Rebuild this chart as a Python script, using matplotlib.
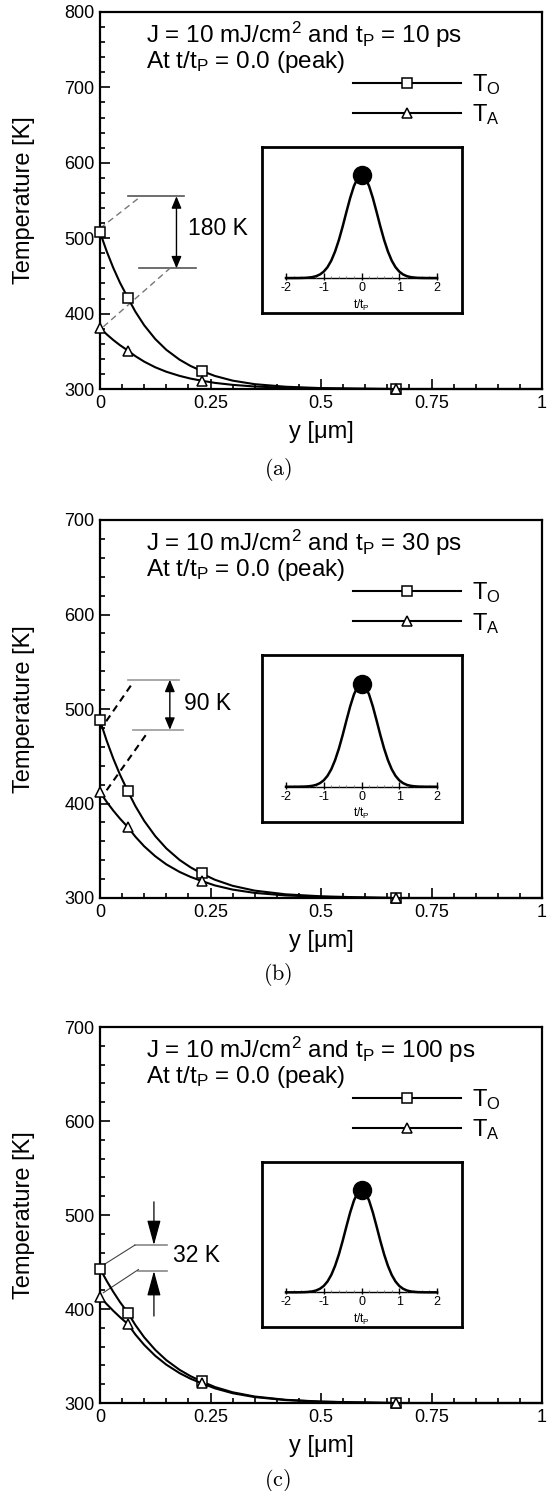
import matplotlib
matplotlib.use("Agg")
import matplotlib.pyplot as plt
from matplotlib.lines import Line2D
from matplotlib.ticker import MultipleLocator, FixedLocator

plt.rcParams.update({
    "font.family": ["Liberation Sans", "DejaVu Sans"],
    "mathtext.fontset": "custom",
    "mathtext.rm": "Liberation Sans",
    "mathtext.it": "Liberation Sans:italic",
    "mathtext.bf": "Liberation Sans:bold",
    "mathtext.sf": "Liberation Sans",
})

# ---------------- data ----------------
depth_um = [0, 0.015, 0.03, 0.045, 0.063, 0.08, 0.10, 0.125, 0.15, 0.18, 0.205,
            0.23, 0.26, 0.30, 0.35, 0.42, 0.50, 0.58, 0.67, 0.80, 1.00]
marker_idx = [0, 4, 11, 18]

T_O_a = [508, 482.8, 460.7, 441.2, 421, 402.6, 384.5, 366.3, 352, 338.9, 330.5,
         324, 317.3, 311.1, 306.4, 303, 301.2, 300.5, 300, 300, 300]
T_A_a = [381, 372.6, 365, 358.2, 351, 343.6, 336.3, 328.8, 322.9, 317.4, 313.8,
         311, 308.1, 305.5, 303.3, 301.6, 300.7, 300.3, 300, 300, 300]

T_O_b = [488, 466.6, 447.6, 430.7, 413, 397.3, 381.6, 365.5, 352.5, 340.3, 332.4,
         326, 319.3, 312.9, 307.8, 303.9, 301.8, 300.8, 300, 300, 300]
T_A_b = [412, 401.8, 392.5, 384.1, 375, 364.9, 354.7, 344.2, 335.6, 327.6, 322.3,
         318, 313.3, 308.9, 305.4, 302.7, 301.2, 300.5, 300, 300, 300]

T_O_c = [443, 430, 418.3, 407.5, 396, 383, 369.9, 356.5, 345.6, 335.3, 328.5,
         323, 317, 311.4, 306.9, 303.4, 301.5, 300.7, 300, 300, 300]
T_A_c = [413, 405.3, 398.1, 391.4, 384, 372.9, 361.8, 350.2, 340.8, 331.8, 325.8,
         321, 315.6, 310.4, 306.3, 303.1, 301.4, 300.6, 300, 300, 300]

T_O_all = [T_O_a, T_O_b, T_O_c]
T_A_all = [T_A_a, T_A_b, T_A_c]

pulse_ps = ["10", "30", "100"]
y_top = [800, 700, 700]
panel_labels = ["a", "b", "c"]
delta_labels = ["180 K", "90 K", "32 K"]

x_ticks = [0, 0.25, 0.5, 0.75, 1]
x_ticklabels = ["0", "0.25", "0.5", "0.75", "1"]

# inset: normalised laser pulse vs t/tp
pulse_t = [-2.0, -1.9, -1.8, -1.7, -1.6, -1.5, -1.4, -1.3, -1.2, -1.1, -1.0,
           -0.9, -0.8, -0.7, -0.6, -0.5, -0.4, -0.3, -0.2, -0.1, 0.0,
           0.1, 0.2, 0.3, 0.4, 0.5, 0.6, 0.7, 0.8, 0.9, 1.0,
           1.1, 1.2, 1.3, 1.4, 1.5, 1.6, 1.7, 1.8, 1.9, 2.0]
pulse_I = [0, 0, 0.0001, 0.0003, 0.0008, 0.002, 0.0044, 0.0092, 0.0184, 0.035, 0.0625,
           0.106, 0.17, 0.258, 0.369, 0.5, 0.642, 0.779, 0.895, 0.973, 1.0,
           0.973, 0.895, 0.779, 0.642, 0.5, 0.369, 0.258, 0.17, 0.106, 0.0625,
           0.035, 0.0184, 0.0092, 0.0044, 0.002, 0.0008, 0.0003, 0.0001, 0, 0]
peak_t = [0.0]
peak_I = [1.0]
inset_ticks = [-2, -1, 0, 1, 2]
inset_minor = [-1.8, -1.6, -1.4, -1.2, -0.8, -0.6, -0.4, -0.2,
               0.2, 0.4, 0.6, 0.8, 1.2, 1.4, 1.6, 1.8]

# ---------------- figure ----------------
W, H = 548, 1491
fig = plt.figure(figsize=(W / 100, H / 100), dpi=100)

ax_px = [(100, 12, 542, 389), (100, 520, 542, 898), (100, 1027, 542, 1403)]
caption_y = [470, 975, 1480]

mk_style = dict(markerfacecolor="white", markeredgecolor="black",
                markeredgewidth=1.1, markersize=7.5)

for i in range(3):
    x0, y0, x1, y1 = ax_px[i]
    ax = fig.add_axes([x0 / W, 1 - y1 / H, (x1 - x0) / W, (y1 - y0) / H])
    ax.set_xlim(0, 1)
    ax.set_ylim(300, y_top[i])
    ax.xaxis.set_major_locator(FixedLocator(x_ticks))
    ax.set_xticklabels(x_ticklabels)
    ax.xaxis.set_minor_locator(MultipleLocator(0.05))
    ax.yaxis.set_major_locator(MultipleLocator(100))
    ax.yaxis.set_minor_locator(MultipleLocator(20))
    ax.tick_params(which="both", direction="in", top=False, right=False,
                   width=1.2, labelsize=13)
    ax.tick_params(which="major", length=7, pad=4)
    ax.tick_params(which="minor", length=3.5)
    for sp in ax.spines.values():
        sp.set_linewidth(1.6)

    ax.set_ylabel("Temperature [K]", fontsize=17)
    ax.yaxis.set_label_coords(-0.147, 0.5)
    ax.set_xlabel("y [\u03bcm]", fontsize=17)
    ax.xaxis.set_label_coords(0.5, -0.085)

    # curves
    ax.plot(depth_um, T_O_all[i], color="black", lw=1.5, marker="s",
            markevery=marker_idx, clip_on=False, zorder=5, **mk_style)
    ax.plot(depth_um, T_A_all[i], color="black", lw=1.5, marker="^",
            markevery=marker_idx, clip_on=False, zorder=5, **mk_style)

    # header text
    ax.text(0.104, 0.918,
            r"J = 10 mJ/cm$^2$ and t$_\mathrm{P}$ = " + pulse_ps[i] + " ps",
            transform=ax.transAxes, fontsize=17.5, va="baseline", ha="left")
    ax.text(0.104, 0.851, r"At t/t$_\mathrm{P}$ = 0.0 (peak)",
            transform=ax.transAxes, fontsize=17.5, va="baseline", ha="left")

    # legend
    h_o = Line2D([], [], color="black", lw=1.5, marker="s", **mk_style)
    h_a = Line2D([], [], color="black", lw=1.5, marker="^", **mk_style)
    ax.legend([h_o, h_a], [r"T$_\mathrm{O}$", r"T$_\mathrm{A}$"],
              loc="upper left", bbox_to_anchor=(0.572, 0.841),
              frameon=False, numpoints=1, fontsize=17, handlelength=4.6,
              handletextpad=0.45, borderpad=0, borderaxespad=0,
              labelspacing=0.24)

    # inset with pulse shape
    ins = ax.inset_axes([0.3665, 0.2016, 0.4525, 0.440])
    ins.set_xlim(-2.636, 2.662)
    ins.set_ylim(-0.34, 1.273)
    ins.set_xticks([])
    ins.set_yticks([])
    for sp in ins.spines.values():
        sp.set_linewidth(2.0)
    ins.plot([inset_ticks[0], inset_ticks[-1]], [0, 0], color="black", lw=1.0)
    ins.vlines(inset_ticks, -0.02, 0.045, color="black", lw=1.0)
    ins.vlines(inset_minor, 0, 0.02, color="#888888", lw=0.8)
    for t in inset_ticks:
        ins.text(t, -0.04, str(t), ha="center", va="top", fontsize=9)
    ins.text(0, -0.19, r"t/t$_\mathrm{P}$", ha="center", va="top", fontsize=8.5)
    ins.plot(pulse_t, pulse_I, color="black", lw=1.8)
    ins.plot(peak_t, peak_I, "o", color="black", markersize=13)

    # annotations
    if i == 0:
        ax.plot([0.063, 0.19], [555.6, 555.6], color="#555555", lw=1.2)
        ax.plot([0.088, 0.217], [460, 460], color="#555555", lw=1.2)
        ax.plot([0.0, 0.087], [513, 553], color="#777777", lw=1.0, dashes=(4.5, 3))
        ax.plot([0.0075, 0.158], [382.5, 460], color="#777777", lw=1.0, dashes=(4.5, 3))
        ax.annotate("", xy=(0.173, 555.6), xytext=(0.173, 460),
                    arrowprops=dict(arrowstyle="<|-|>,head_length=0.6,head_width=0.25",
                                    mutation_scale=12, color="black", lw=1.0,
                                    shrinkA=0, shrinkB=0))
        ax.text(0.2, 513, delta_labels[i], fontsize=16.5, va="center", ha="left")
    elif i == 1:
        ax.plot([0.064, 0.178], [531, 531], color="#999999", lw=1.2)
        ax.plot([0.075, 0.188], [478, 478], color="#999999", lw=1.2)
        ax.plot([0.014, 0.076], [487, 529], color="black", lw=1.5, dashes=(3.4, 2.4))
        ax.plot([0.015, 0.109], [414, 476], color="black", lw=1.5, dashes=(3.4, 2.4))
        ax.annotate("", xy=(0.158, 531), xytext=(0.158, 478),
                    arrowprops=dict(arrowstyle="<|-|>,head_length=0.6,head_width=0.25",
                                    mutation_scale=12, color="black", lw=1.0,
                                    shrinkA=0, shrinkB=0))
        ax.text(0.19, 506, delta_labels[i], fontsize=16.5, va="center", ha="left")
    else:
        ax.plot([0.079, 0.151], [468, 468], color="#888888", lw=1.2)
        ax.plot([0.087, 0.151], [440.4, 440.4], color="#888888", lw=1.2)
        ax.plot([0.0075, 0.079], [446.8, 468], color="#444444", lw=0.8)
        ax.plot([0.0075, 0.087], [417.3, 442], color="#444444", lw=0.8)
        ax.annotate("", xy=(0.122, 468), xytext=(0.122, 514),
                    arrowprops=dict(arrowstyle="-|>,head_length=1.1,head_width=0.3",
                                    mutation_scale=14, color="black", lw=0.9,
                                    shrinkA=0, shrinkB=0))
        ax.annotate("", xy=(0.122, 440.4), xytext=(0.122, 392.5),
                    arrowprops=dict(arrowstyle="-|>,head_length=1.1,head_width=0.3",
                                    mutation_scale=14, color="black", lw=0.9,
                                    shrinkA=0, shrinkB=0))
        ax.text(0.165, 457, delta_labels[i], fontsize=16.5, va="center", ha="left")

    fig.text(0.507, 1 - caption_y[i] / H, r"$(\mathrm{" + panel_labels[i] + r"})$",
             math_fontfamily="cm", fontsize=16, ha="center", va="center")

fig.savefig("out.png", dpi=100)
